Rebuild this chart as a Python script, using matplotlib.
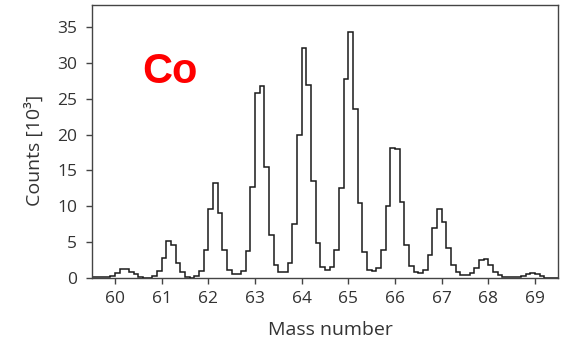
import numpy as np
import matplotlib
matplotlib.use("Agg")
import matplotlib.pyplot as plt

# Mass spectrum of Co: counts (in units of 10^3) per 0.1 mass-number bin
bin_start = 59.5
bin_width = 0.1
counts = [
    0.2, 0.2, 0.2, 0.25, 0.4, 0.7, 1.3, 1.3, 0.9, 0.55,      # 59.5 - 60.5
    0.2, 0.1, 0.1, 0.35, 1.1, 2.9, 5.2, 4.6, 2.1, 0.9,       # 60.5 - 61.5
    0.25, 0.05, 0.3, 1.0, 3.9, 9.7, 13.2, 9.1, 4.0, 1.2,     # 61.5 - 62.5
    0.55, 0.55, 1.0, 3.8, 12.7, 25.8, 26.7, 15.5, 6.1, 1.8,  # 62.5 - 63.5
    0.9, 0.9, 2.1, 7.5, 20.0, 32.0, 26.9, 13.6, 4.9, 1.6,    # 63.5 - 64.5
    1.2, 1.6, 3.9, 12.5, 27.7, 34.3, 23.5, 10.5, 3.7, 1.2,   # 64.5 - 65.5
    1.0, 1.4, 4.0, 10.0, 18.1, 18.0, 10.6, 4.6, 1.7, 0.9,    # 65.5 - 66.5
    0.7, 1.2, 3.3, 7.0, 9.7, 7.9, 4.2, 1.8, 0.9, 0.45,       # 66.5 - 67.5
    0.45, 0.7, 1.4, 2.5, 2.75, 1.8, 0.9, 0.45, 0.2, 0.2,     # 67.5 - 68.5
    0.2, 0.2, 0.4, 0.6, 0.7, 0.55, 0.3, 0.1, 0.05, 0.05,     # 68.5 - 69.5
]
x_ticks = [60, 61, 62, 63, 64, 65, 66, 67, 68, 69]
y_ticks = [0, 5, 10, 15, 20, 25, 30, 35]
element = "Co"

edges = bin_start + bin_width * np.arange(len(counts) + 1)

plt.rcParams["font.family"] = ["Open Sans", "DejaVu Sans"]

fig = plt.figure(figsize=(5.63, 3.45), dpi=100)
ax = fig.add_axes([0.163, 0.193, 0.829, 0.7925])

ax.stairs(counts, edges, color="#1a1a1a", linewidth=1.1, baseline=0)

ax.set_xlim(59.5, 69.5)
ax.set_ylim(0, 38)
ax.set_xticks(x_ticks)
ax.set_yticks(y_ticks)

for s in ax.spines.values():
    s.set_color("#444444")
    s.set_linewidth(1.0)

ax.tick_params(axis="both", direction="out", length=4, width=1.0,
               color="#444444", labelcolor="#333333", labelsize=12.5)
ax.tick_params(axis="x", pad=5)
ax.tick_params(axis="y", pad=6.5)

ax.set_xlabel("Mass number", fontsize=14, color="#333333", labelpad=10.5)
ax.set_ylabel("Counts [10³]", fontsize=14, color="#333333", labelpad=10)
ax.xaxis.label.set_x(0.511)
ax.yaxis.label.set_y(0.47)

ax.text(0.109, 0.715, element, transform=ax.transAxes, color="#ff0000",
        fontsize=30, fontweight="bold", family=["Liberation Sans", "DejaVu Sans"],
        ha="left", va="baseline")

fig.savefig("out.png", dpi=100)
